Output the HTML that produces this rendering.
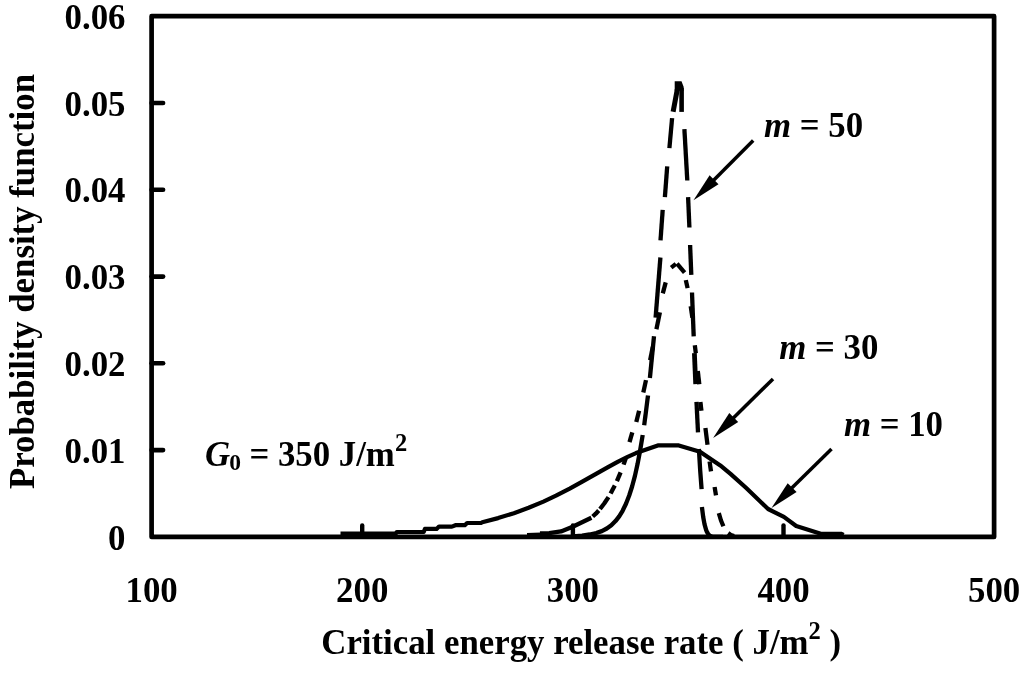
<!DOCTYPE html>
<html lang="en"><head><meta charset="utf-8"><title>Probability density function</title>
<style>html,body{margin:0;padding:0;background:#fff;}svg{display:block;}text{font-family:"Liberation Serif", serif;font-weight:bold;fill:#000;}</style></head><body>
<svg width="1024" height="677" viewBox="0 0 1024 677">
<rect x="0" y="0" width="1024" height="677" fill="#fff"/>
<g id="curves">
<polyline points="340.5,533.7 395.6,533.7 396.8,532.0 423.7,532.0 424.9,528.9 436.6,528.9 439.0,526.6 451.9,526.6 455.4,525.2 464.8,525.2 467.1,523.0 481.0,523.0 482.3,522.2 498.1,518.1 513.9,513.2 528.6,507.8 543.4,501.6 556.0,495.7 569.7,488.6 582.3,481.7 607.6,467.3 618.1,461.6 627.6,456.9 636.0,453.1 657.8,445.4 678.8,445.4 700.0,451.7 720.3,465.4 730.8,474.1 746.0,487.8 768.1,509.0 783.9,516.9 796.2,526.0 820.8,533.8 841.0,533.8 843.7,534.9" fill="none" stroke="#000" stroke-width="4.2" stroke-linejoin="round"/>
<polyline points="669.4,148.1 672.1,118.1" fill="none" stroke="#000" stroke-width="4.3" stroke-linejoin="round" stroke-linecap="butt"/>
<polyline points="664.9,197.2 667.2,166.3" fill="none" stroke="#000" stroke-width="4.3" stroke-linejoin="round" stroke-linecap="butt"/>
<polyline points="660.5,240.3 662.7,209.8" fill="none" stroke="#000" stroke-width="4.3" stroke-linejoin="round" stroke-linecap="butt"/>
<polyline points="655.6,317.7 660.4,257.5" fill="none" stroke="#000" stroke-width="4.3" stroke-linejoin="round" stroke-linecap="butt"/>
<polyline points="649.9,378.0 654.0,336.3" fill="none" stroke="#000" stroke-width="4.3" stroke-linejoin="round" stroke-linecap="butt"/>
<polyline points="644.2,425.3 648.0,395.4" fill="none" stroke="#000" stroke-width="4.3" stroke-linejoin="round" stroke-linecap="butt"/>
<polyline points="572.9,536.3 582.1,535.6 589.7,534.5 596.3,533.0 601.8,531.1 606.8,528.5 611.3,525.3 615.5,521.1 619.2,516.4 622.6,510.8 626.0,503.7 629.2,495.5 632.1,486.5 635.0,475.6 637.6,463.8 640.2,450.0 642.7,435.0" fill="none" stroke="#000" stroke-width="4.3" stroke-linejoin="round" stroke-linecap="butt"/>
<polyline points="684.4,129.1 687.3,180.5" fill="none" stroke="#000" stroke-width="4.3" stroke-linejoin="round" stroke-linecap="butt"/>
<polyline points="688.1,197.2 689.4,227.5" fill="none" stroke="#000" stroke-width="4.3" stroke-linejoin="round" stroke-linecap="butt"/>
<polyline points="690.1,245.0 691.3,274.8" fill="none" stroke="#000" stroke-width="4.3" stroke-linejoin="round" stroke-linecap="butt"/>
<polyline points="692.0,292.5 693.7,336.3" fill="none" stroke="#000" stroke-width="4.3" stroke-linejoin="round" stroke-linecap="butt"/>
<polyline points="694.4,353.2 695.7,384.2" fill="none" stroke="#000" stroke-width="4.8" stroke-linejoin="round" stroke-linecap="butt"/>
<polyline points="696.5,401.9 698.0,432.4" fill="none" stroke="#000" stroke-width="4.3" stroke-linejoin="round" stroke-linecap="butt"/>
<polyline points="698.9,449.0 700.2,470.6 701.6,489.1" fill="none" stroke="#000" stroke-width="4.3" stroke-linejoin="round" stroke-linecap="butt"/>
<polyline points="701.9,506.9 703.2,517.0 704.5,524.2 706.1,529.9 706.9,531.8 708.0,533.7 708.7,534.7 709.8,535.6 710.9,536.2 712.2,536.6 715.3,536.9 723.0,536.9" fill="none" stroke="#000" stroke-width="4.3" stroke-linejoin="round" stroke-linecap="butt"/>
<polygon points="674.7,81.2 681.5,81.2 683.8,87.3 683.2,89.0 683.9,90.8 674.7,90.8" fill="#000"/>
<polyline points="677.3,89.5 673.1,111.7" fill="none" stroke="#000" stroke-width="5.0" stroke-linejoin="round" stroke-linecap="butt"/>
<polyline points="681.6,88.0 681.6,111.9" fill="none" stroke="#000" stroke-width="4.6" stroke-linejoin="round" stroke-linecap="butt"/>
<polyline points="662.8,293.4 665.7,282.4" fill="none" stroke="#000" stroke-width="4.3" stroke-linejoin="round" stroke-linecap="butt"/>
<polyline points="656.4,329.2 659.9,312.4" fill="none" stroke="#000" stroke-width="4.3" stroke-linejoin="round" stroke-linecap="butt"/>
<polyline points="650.1,360.3 652.8,347.0" fill="none" stroke="#000" stroke-width="4.3" stroke-linejoin="round" stroke-linecap="butt"/>
<polyline points="643.3,392.5 646.0,380.1" fill="none" stroke="#000" stroke-width="4.3" stroke-linejoin="round" stroke-linecap="butt"/>
<polyline points="636.3,422.0 639.1,410.8" fill="none" stroke="#000" stroke-width="4.3" stroke-linejoin="round" stroke-linecap="butt"/>
<polyline points="629.5,442.2 632.3,432.4" fill="none" stroke="#000" stroke-width="4.3" stroke-linejoin="round" stroke-linecap="butt"/>
<polyline points="623.6,464.6 625.7,458.5" fill="none" stroke="#000" stroke-width="4.3" stroke-linejoin="round" stroke-linecap="butt"/>
<polyline points="616.9,481.1 620.6,472.3" fill="none" stroke="#000" stroke-width="4.3" stroke-linejoin="round" stroke-linecap="butt"/>
<polyline points="610.6,493.6 614.8,485.6" fill="none" stroke="#000" stroke-width="4.3" stroke-linejoin="round" stroke-linecap="butt"/>
<polyline points="600.0,509.0 604.4,503.3 608.5,497.1" fill="none" stroke="#000" stroke-width="4.3" stroke-linejoin="round" stroke-linecap="butt"/>
<polyline points="592.7,516.5 595.8,513.7 598.7,510.5" fill="none" stroke="#000" stroke-width="4.3" stroke-linejoin="round" stroke-linecap="butt"/>
<polyline points="685.8,280.1 687.6,288.1" fill="none" stroke="#000" stroke-width="4.3" stroke-linejoin="round" stroke-linecap="butt"/>
<polyline points="690.7,306.2 692.4,317.7" fill="none" stroke="#000" stroke-width="4.3" stroke-linejoin="round" stroke-linecap="butt"/>
<polyline points="694.8,345.2 695.8,353.2" fill="none" stroke="#000" stroke-width="4.3" stroke-linejoin="round" stroke-linecap="butt"/>
<polyline points="697.8,370.9 699.3,384.2" fill="none" stroke="#000" stroke-width="4.3" stroke-linejoin="round" stroke-linecap="butt"/>
<polyline points="700.4,401.9 701.4,410.8" fill="none" stroke="#000" stroke-width="4.3" stroke-linejoin="round" stroke-linecap="butt"/>
<polyline points="705.4,428.0 707.5,444.8" fill="none" stroke="#000" stroke-width="4.3" stroke-linejoin="round" stroke-linecap="butt"/>
<polyline points="709.6,461.5 711.0,471.4" fill="none" stroke="#000" stroke-width="4.3" stroke-linejoin="round" stroke-linecap="butt"/>
<polyline points="714.6,487.0 716.0,495.3" fill="none" stroke="#000" stroke-width="4.3" stroke-linejoin="round" stroke-linecap="butt"/>
<polyline points="718.8,513.1 721.0,520.5 723.4,526.3" fill="none" stroke="#000" stroke-width="4.3" stroke-linejoin="round" stroke-linecap="butt"/>
<polyline points="591.4,517.7 572.7,526.7 561.0,531.4 549.2,533.1 540.0,533.5" fill="none" stroke="#000" stroke-width="4.3" stroke-linejoin="round" stroke-linecap="butt"/>
<polyline points="541.0,533.8 527.0,534.3" fill="none" stroke="#000" stroke-width="2.6" stroke-linejoin="round" stroke-linecap="butt"/>
<polyline points="671.2,267.6 675.9,263.9" fill="none" stroke="#000" stroke-width="4.3" stroke-linejoin="round" stroke-linecap="butt"/>
<polyline points="677.0,263.6 684.6,272.6" fill="none" stroke="#000" stroke-width="4.3" stroke-linejoin="round" stroke-linecap="butt"/>
<polyline points="728.2,533.1 730.8,534.9 734.0,536.1" fill="none" stroke="#000" stroke-width="4.3" stroke-linejoin="round" stroke-linecap="butt"/>
</g>
<rect x="151.6" y="16.2" width="842.5" height="520.7" fill="none" stroke="#000" stroke-width="4.7" stroke-linejoin="round"/>
<line x1="151.6" y1="450.1" x2="163.1" y2="450.1" stroke="#000" stroke-width="4.6" stroke-linecap="round"/>
<line x1="151.6" y1="363.3" x2="163.1" y2="363.3" stroke="#000" stroke-width="4.6" stroke-linecap="round"/>
<line x1="151.6" y1="276.6" x2="163.1" y2="276.6" stroke="#000" stroke-width="4.6" stroke-linecap="round"/>
<line x1="151.6" y1="189.8" x2="163.1" y2="189.8" stroke="#000" stroke-width="4.6" stroke-linecap="round"/>
<line x1="151.6" y1="103.0" x2="163.1" y2="103.0" stroke="#000" stroke-width="4.6" stroke-linecap="round"/>
<line x1="362.2" y1="536.9" x2="362.2" y2="525.4" stroke="#000" stroke-width="4.4" stroke-linecap="round"/>
<line x1="572.9" y1="536.9" x2="572.9" y2="525.4" stroke="#000" stroke-width="4.4" stroke-linecap="round"/>
<line x1="783.5" y1="536.9" x2="783.5" y2="525.4" stroke="#000" stroke-width="4.4" stroke-linecap="round"/>
<text x="125.5" y="549.5" font-size="34.8" text-anchor="end">0</text>
<text x="125.5" y="462.7" font-size="34.8" text-anchor="end">0.01</text>
<text x="125.5" y="375.9" font-size="34.8" text-anchor="end">0.02</text>
<text x="125.5" y="289.2" font-size="34.8" text-anchor="end">0.03</text>
<text x="125.5" y="202.4" font-size="34.8" text-anchor="end">0.04</text>
<text x="125.5" y="115.6" font-size="34.8" text-anchor="end">0.05</text>
<text x="125.5" y="28.8" font-size="34.8" text-anchor="end">0.06</text>
<text x="151.6" y="602.3" font-size="34.8" text-anchor="middle">100</text>
<text x="362.2" y="602.3" font-size="34.8" text-anchor="middle">200</text>
<text x="572.9" y="602.3" font-size="34.8" text-anchor="middle">300</text>
<text x="783.5" y="602.3" font-size="34.8" text-anchor="middle">400</text>
<text x="994.1" y="602.3" font-size="34.8" text-anchor="middle">500</text>
<text x="581.2" y="653.6" font-size="34.8" text-anchor="middle">Critical energy release rate ( J/m<tspan dy="-14.8" font-size="24.5">2</tspan><tspan dy="14.8"> )</tspan></text>
<text transform="translate(34.3,281.5) rotate(-90)" font-size="34.8" text-anchor="middle">Probability density function</text>
<text x="205" y="465.6" font-size="34.8"><tspan font-style="italic">G</tspan><tspan dx="-0.8" dy="4.5" font-size="23.5">0</tspan><tspan dx="-0.4" dy="-4.5"> = 350 J/m</tspan><tspan dy="-15" font-size="24.5">2</tspan></text>
<text x="764" y="136.7" font-size="34.8"><tspan font-style="italic">m</tspan> = 50</text>
<text x="779.2" y="359.3" font-size="34.8"><tspan font-style="italic">m</tspan> = 30</text>
<text x="843.9" y="435.6" font-size="34.8"><tspan font-style="italic">m</tspan> = 10</text>
<line x1="753.2" y1="140.6" x2="711.9" y2="181.9" stroke="#000" stroke-width="3.5"/><polygon points="693.5,200.3 709.6,175.3 718.5,184.2" fill="#000"/>
<line x1="773.0" y1="378.9" x2="731.6" y2="419.7" stroke="#000" stroke-width="3.5"/><polygon points="713.1,438.0 729.3,413.1 738.2,422.1" fill="#000"/>
<line x1="831.5" y1="448.9" x2="790.0" y2="489.8" stroke="#000" stroke-width="3.5"/><polygon points="771.5,508.0 787.7,483.2 796.6,492.1" fill="#000"/>
</svg></body></html>
